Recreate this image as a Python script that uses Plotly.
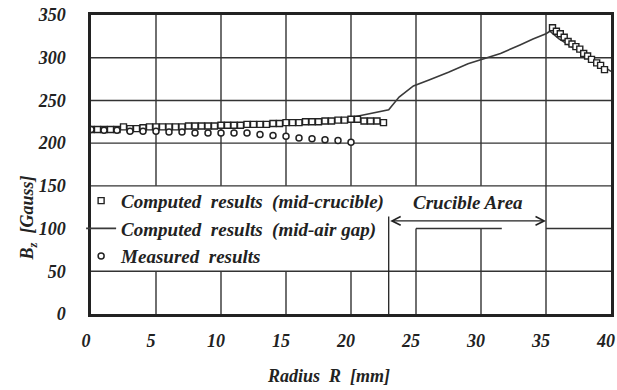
import plotly.graph_objects as go

# ---------------- data ----------------
sq_r = [0, 0.5, 1, 1.5, 2, 2.5, 3, 3.5, 4, 4.5, 5, 5.5, 6, 6.5, 7, 7.5, 8, 8.5, 9, 9.5,
        10, 10.5, 11, 11.5, 12, 12.5, 13, 13.5, 14, 14.5, 15, 15.5, 16, 16.5, 17, 17.5,
        18, 18.5, 19, 19.5, 20, 20.5, 21, 21.5, 22, 22.5,
        35.5, 35.8, 36.1, 36.4, 36.7, 37.0, 37.3, 37.6, 37.9, 38.2, 38.5, 38.9, 39.2, 39.5]
sq_v = [216, 216, 216, 216, 216, 219, 217, 217, 218, 219, 219, 219, 219, 219, 219, 220,
        220, 220, 220, 220, 221, 221, 221, 221, 222, 222, 222, 222, 223, 223, 224, 224,
        224, 225, 225, 225, 226, 226, 227, 227, 228, 228, 226, 226, 226, 224,
        335, 331, 328, 324, 319, 316, 313, 310, 305, 302, 298, 294, 291, 286]

gap_r = [0, 5, 10, 15, 18, 20, 21, 22, 22.9, 23.7, 24.8, 26, 27.5, 29, 30, 31.5, 33, 34,
         35, 35.3, 36, 37, 38, 39, 40]
gap_v = [217, 219, 221, 224, 227, 230, 233, 236, 239, 254, 267, 274, 283, 293, 298, 305,
         315, 322, 328, 331, 322, 313, 304, 294, 284]

meas_r = [0, 1, 2, 3, 4, 5, 6, 7, 8, 9, 10, 11, 12, 13, 14, 15, 16, 17, 18, 19, 20]
meas_v = [216, 215, 215, 214, 214, 214, 213, 213, 212, 212, 212, 212, 212, 210, 209, 208,
          206, 205, 204, 203, 201]

crucible_strip_r = [23.1, 23.55, 24.0, 24.45, 24.9, 25.35, 25.8, 26.25, 26.7, 27.15, 27.6,
                    28.05, 28.5, 28.95, 29.4, 29.85, 30.3, 30.75, 31.2, 31.65, 32.1, 32.55,
                    33.0, 33.45, 33.9, 34.35, 34.8, 35.25]
crucible_strip_v = [-1] * len(crucible_strip_r)

crucible_start = 22.9
crucible_end = 35
x_ticks = [0, 5, 10, 15, 20, 25, 30, 35, 40]
y_ticks = [0, 50, 100, 150, 200, 250, 300, 350]

SERIF = "Liberation Serif"
INK = "#222222"
GRID = "#333333"

def bi(size):
    return dict(family=SERIF, size=size, color=INK, weight="bold", style="italic")

fig = go.Figure()

fig.add_trace(go.Scatter(
    x=gap_r, y=gap_v, mode="lines",
    name="Computed  results  (mid-air gap)",
    line=dict(color="#3a3a3a", width=1.6),
    legendrank=2,
))
fig.add_trace(go.Scatter(
    x=sq_r, y=sq_v, mode="markers",
    name="Computed  results  (mid-crucible)",
    marker=dict(symbol="square", size=6, color="white", line=dict(color=INK, width=1.4)),
    legendrank=1,
))
fig.add_trace(go.Scatter(
    x=meas_r, y=meas_v, mode="markers",
    name="Measured  results",
    marker=dict(symbol="circle", size=6, color="white", line=dict(color=INK, width=1.5)),
    legendrank=3,
))
fig.add_trace(go.Scatter(
    x=crucible_strip_r, y=crucible_strip_v, mode="markers", showlegend=False,
    marker=dict(symbol="square", size=5, color="white", line=dict(color=INK, width=1.3)),
    cliponaxis=False, hoverinfo="skip",
))

# ---------------- grid (interrupted behind legend / label box) ----------------
def gline(x0, x1, y0, y1):
    fig.add_shape(type="line", xref="x", yref="y", x0=x0, x1=x1, y0=y0, y1=y1,
                  line=dict(color=GRID, width=1.4), layer="below")

for xv in x_ticks[1:-1]:
    if xv < crucible_start:
        gline(xv, xv, 0, 50); gline(xv, xv, 150, 350)
    elif xv < crucible_end:
        gline(xv, xv, 0, 100); gline(xv, xv, 150, 350)
    else:
        gline(xv, xv, 0, 350)
for yv in y_ticks[1:-1]:
    if yv == 100:
        gline(25, 31.6, yv, yv); gline(crucible_end, 40, yv, yv)
    else:
        gline(0, 40, yv, yv)

# crucible boundary line
fig.add_shape(type="line", xref="x", yref="y", x0=crucible_start, x1=crucible_start,
              y0=0, y1=114, line=dict(color=INK, width=1.3), layer="above")

# double-headed arrow
fig.add_annotation(x=crucible_end, y=109, ax=crucible_start, ay=109,
                   xref="x", yref="y", axref="x", ayref="y", text="",
                   showarrow=True, arrowhead=5, startarrowhead=5, arrowside="end+start",
                   arrowsize=1.3, startarrowsize=1.3, arrowwidth=1.3, arrowcolor=INK)
fig.add_annotation(x=29, y=130, xref="x", yref="y", text="Crucible Area", showarrow=False,
                   font=bi(19))

# axis titles as annotations (placed as in the reference)
fig.add_annotation(x=18.3, y=-0.207, xref="x", yref="paper", text="Radius  R  [mm]",
                   showarrow=False, font=bi(18), yanchor="middle")
fig.add_annotation(x=-0.121, y=112, xref="paper", yref="y", text="B<sub>z</sub>  [Gauss]",
                   textangle=-90, showarrow=False, font=bi(18), xanchor="center")

tickfont = bi(18)

fig.update_layout(
    width=617, height=390,
    margin=dict(l=91, r=6, t=15, b=76, autoexpand=False),
    paper_bgcolor="white", plot_bgcolor="white",
    showlegend=True,
    legend=dict(x=-0.019, y=0.285, xanchor="left", yanchor="middle",
                bgcolor="rgba(0,0,0,0)", borderwidth=0,
                font=bi(19), itemwidth=30, tracegroupgap=0),
    xaxis=dict(range=[0, 40], tickvals=x_ticks, ticktext=[str(v) for v in x_ticks],
               showgrid=False, showline=True, linecolor=INK, linewidth=2.5, mirror=True,
               ticks="", tickfont=tickfont, ticklabelstandoff=9, ticklabelshift=-5,
               zeroline=False),
    yaxis=dict(range=[0, 350], tickvals=y_ticks, ticktext=[str(v) for v in y_ticks],
               showgrid=False, showline=True, linecolor=INK, linewidth=2.5, mirror=True,
               ticks="", tickfont=tickfont, ticklabelstandoff=19, zeroline=False),
)

fig.write_html("out.html", config={"displayModeBar": False},
               post_script="document.body.style.margin='0px';document.body.style.overflow='hidden';")
